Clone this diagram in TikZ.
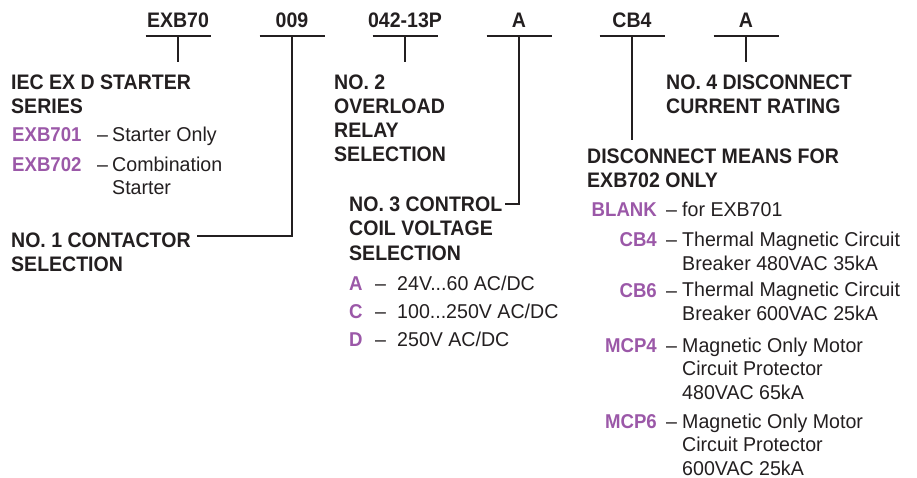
\documentclass[tikz,border=0pt]{standalone}
\usepackage{fontspec}
\setmainfont{Liberation Sans}[FakeStretch=0.98]
\newfontfamily\hfam{Liberation Sans}[FakeStretch=0.93]
\definecolor{ink}{RGB}{35,31,32}
\definecolor{plum}{RGB}{155,88,168}
\tikzset{
  head/.style={inner sep=0pt, anchor=base west, align=left, text=ink,
    font=\hfam\fontsize{21}{24}\selectfont\bfseries},
  body/.style={inner sep=0pt, anchor=base west, align=left, text=ink,
    font=\fontsize{20}{23.5}\selectfont},
  code/.style={inner sep=0pt, text=plum, font=\hfam\fontsize{20}{23.5}\selectfont\bfseries},
  top/.style={inner sep=0pt, anchor=base, text=ink, font=\hfam\fontsize{21}{24}\selectfont\bfseries},
  bar/.style={line width=2.6pt, draw=ink},
  lead/.style={line width=2.4pt, draw=ink},
}
\begin{document}
\begin{tikzpicture}[x=1pt, y=-1pt]
\useasboundingbox (0,0) rectangle (917,478);
% top codes
\node[top] (c1) at (178,28) {EXB70};
\node[top] (c2) at (292,28) {009};
\node[top] (c3) at (405,28) {042-13P};
\node[top] (c4) at (519,28) {A};
\node[top] (c5) at (632,28) {CB4};
\node[top] (c6) at (746,28) {A};
\foreach \i/\x in {1/178,2/292,3/405,4/519,5/632,6/746}{
  \coordinate (b\i) at (\x,36);
  \draw[bar] ([xshift=-32.5pt]b\i) -- ([xshift=32.5pt]b\i);
}
% headings (anchored at the baseline of their last line)
\node[head] (h1) at (11,114) {IEC EX D STARTER\\SERIES};
\node[head] (h2) at (334,162) {NO. 2\\OVERLOAD\\RELAY\\SELECTION};
\node[head] (h4) at (666,114) {NO. 4 DISCONNECT\\CURRENT RATING};
\node[head] (h5) at (587,188) {DISCONNECT MEANS FOR\\EXB702 ONLY};
\node[head] (h3) at (349,260) {NO. 3 CONTROL\\COIL VOLTAGE\\SELECTION};
\node[head] (h0) at (11,271) {NO. 1 CONTACTOR\\SELECTION};
% connector ends
\coordinate (e1) at (178,62);
\coordinate (e3) at (405,62);
\coordinate (e6) at (746,62);
\coordinate (e5) at (632,140);
\coordinate (k2) at (292,236);
\coordinate (e2) at (197,236);
\coordinate (k4) at (519,204);
\coordinate (e4) at (505,204);
\draw[lead] (b1) -- (e1);
\draw[lead] (b3) -- (e3);
\draw[lead] (b6) -- (e6);
\draw[lead] (b5) -- (e5);
\draw[lead] (b2) -- (k2) -- (e2);
\draw[lead] (b4) -- (k4) -- (e4);
% section 1 list
\node[code, anchor=base west] (s1a) at (12,142) {EXB701};
\node[body] (d1a) at (97,142) {–};
\node[body] (t1a) at (112,142) {Starter Only};
\node[code, anchor=base west] (s1b) at (12,172) {EXB702};
\node[body] (d1b) at (97,172) {–};
\node[body] (t1b) at (112,195) {Combination\\Starter};
% section 3 list
\node[code, anchor=base west] (s3a) at (349,290) {A};
\node[body] (d3a) at (375,290) {–};
\node[body] (t3a) at (397,290) {24V...60 AC/DC};
\node[code, anchor=base west] (s3b) at (349,318) {C};
\node[body] (d3b) at (375,318) {–};
\node[body] (t3b) at (397,318) {100...250V AC/DC};
\node[code, anchor=base west] (s3c) at (349,346) {D};
\node[body] (d3c) at (375,346) {–};
\node[body] (t3c) at (397,346) {250V AC/DC};
% disconnect list
\node[code, anchor=base east] (s5a) at (657,217) {BLANK};
\node[body] (d5a) at (666,217) {–};
\node[body] (t5a) at (682,217) {for EXB701};
\node[code, anchor=base east] (s5b) at (657,247) {CB4};
\node[body] (d5b) at (666,247) {–};
\node[body] (t5b) at (682,270) {Thermal Magnetic Circuit\\Breaker 480VAC 35kA};
\node[code, anchor=base east] (s5c) at (657,297) {CB6};
\node[body] (d5c) at (666,297) {–};
\node[body] (t5c) at (682,320) {Thermal Magnetic Circuit\\Breaker 600VAC 25kA};
\node[code, anchor=base east] (s5d) at (657,352) {MCP4};
\node[body] (d5d) at (666,352) {–};
\node[body] (t5d) at (682,399) {Magnetic Only Motor\\Circuit Protector\\480VAC 65kA};
\node[code, anchor=base east] (s5e) at (657,428) {MCP6};
\node[body] (d5e) at (666,428) {–};
\node[body] (t5e) at (682,475) {Magnetic Only Motor\\Circuit Protector\\600VAC 25kA};
\end{tikzpicture}
\end{document}
